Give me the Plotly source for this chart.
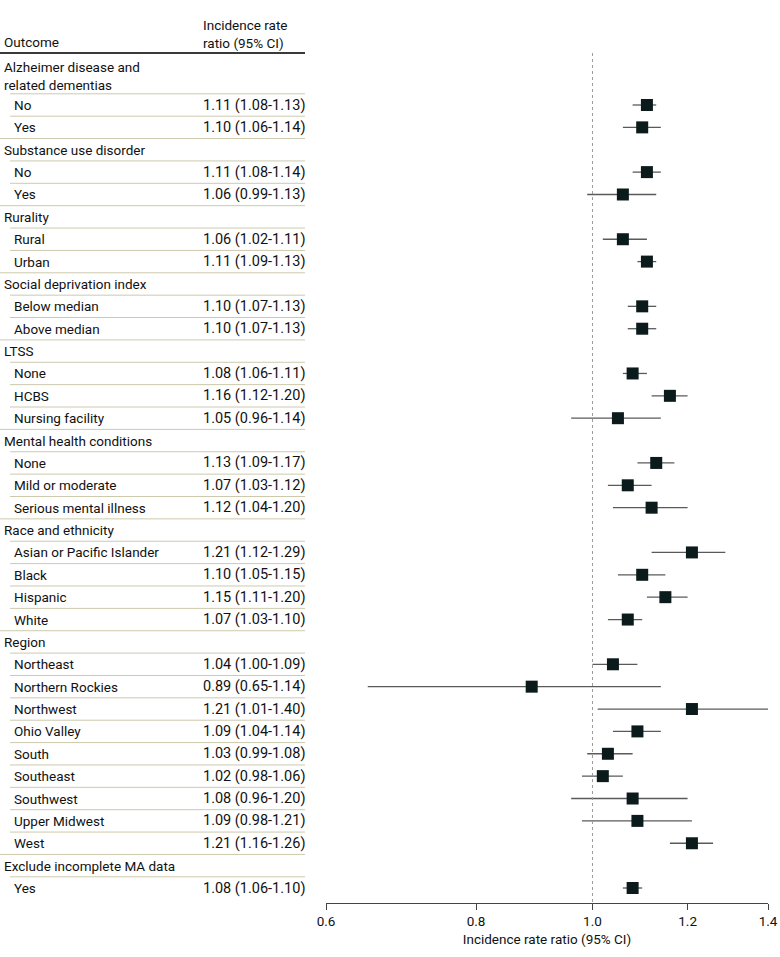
import math
import plotly.graph_objects as go

# ---------------- data ----------------
categories = [
    "Alzheimer disease and<br>related dementias",
    "Substance use disorder",
    "Rurality",
    "Social deprivation index",
    "LTSS",
    "Mental health conditions",
    "Race and ethnicity",
    "Region",
    "Exclude incomplete MA data",
]
subgroups = [
    ["No", "Yes"],
    ["No", "Yes"],
    ["Rural", "Urban"],
    ["Below median", "Above median"],
    ["None", "HCBS", "Nursing facility"],
    ["None", "Mild or moderate", "Serious mental illness"],
    ["Asian or Pacific Islander", "Black", "Hispanic", "White"],
    ["Northeast", "Northern Rockies", "Northwest", "Ohio Valley", "South",
     "Southeast", "Southwest", "Upper Midwest", "West"],
    ["Yes"],
]
irr = [
    [1.11, 1.10],
    [1.11, 1.06],
    [1.06, 1.11],
    [1.10, 1.10],
    [1.08, 1.16, 1.05],
    [1.13, 1.07, 1.12],
    [1.21, 1.10, 1.15, 1.07],
    [1.04, 0.89, 1.21, 1.09, 1.03, 1.02, 1.08, 1.09, 1.21],
    [1.08],
]
ci_low = [
    [1.08, 1.06],
    [1.08, 0.99],
    [1.02, 1.09],
    [1.07, 1.07],
    [1.06, 1.12, 0.96],
    [1.09, 1.03, 1.04],
    [1.12, 1.05, 1.11, 1.03],
    [1.00, 0.65, 1.01, 1.04, 0.99, 0.98, 0.96, 0.98, 1.16],
    [1.06],
]
ci_high = [
    [1.13, 1.14],
    [1.14, 1.13],
    [1.11, 1.13],
    [1.13, 1.13],
    [1.11, 1.20, 1.14],
    [1.17, 1.12, 1.20],
    [1.29, 1.15, 1.20, 1.10],
    [1.09, 1.14, 1.40, 1.14, 1.08, 1.06, 1.20, 1.21, 1.26],
    [1.10],
]
tick_vals = [0.6, 0.8, 1.0, 1.2, 1.4]
tick_text = ["0.6", "0.8", "1.0", "1.2", "1.4"]
x_title = "Incidence rate ratio (95% CI)"
col_headers = ["Outcome", "Incidence rate<br>ratio (95% CI)"]

# ---------------- layout helpers ----------------
W, H = 780, 957
FONT = "Roboto"
FS = 13.5
FS_IRR = 14.5
TXT = "#111111"
SEP = "#cdc9ad"

X_LABEL_CAT = 4 / W
X_LABEL_SUB = 14 / W
X_IRR = 203 / W
X_TABLE_END = 305 / W
X_SEP_IND = 10 / W

fig = go.Figure()
annotations = []
shapes = []


def txt(x, y, s, size=FS):
    return dict(x=x, y=y, xref="paper", yref="y", text=s, showarrow=False,
                xanchor="left", yanchor="middle", align="left",
                borderpad=0, borderwidth=0,
                font=dict(family=FONT, size=size, color=TXT))


row = 0.0
ys_pts, xs_pts, line_x, line_y = [], [], [], []
for gi, cat in enumerate(categories):
    if gi == 0:
        cat_y = -1.3
        sep_y = -0.5
    else:
        cat_y = row
        sep_y = row + 0.5
        row += 1
    annotations.append(txt(X_LABEL_CAT, cat_y, cat))
    shapes.append(dict(type="line", xref="paper", yref="y", x0=X_SEP_IND,
                       x1=X_TABLE_END, y0=sep_y, y1=sep_y,
                       line=dict(color=SEP, width=1)))
    n = len(subgroups[gi])
    for si, sub in enumerate(subgroups[gi]):
        y = row
        row += 1
        annotations.append(txt(X_LABEL_SUB, y, sub))
        annotations.append(txt(X_IRR, y,
                               f"{irr[gi][si]:.2f} ({ci_low[gi][si]:.2f}-{ci_high[gi][si]:.2f})",
                               FS_IRR))
        last = si == n - 1
        if not (gi == len(categories) - 1 and last):
            shapes.append(dict(type="line", xref="paper", yref="y",
                               x0=0 if last else X_SEP_IND, x1=X_TABLE_END,
                               y0=y + 0.5, y1=y + 0.5,
                               line=dict(color=SEP, width=1)))
        ys_pts.append(y)
        xs_pts.append(irr[gi][si])
        line_x += [ci_low[gi][si], ci_high[gi][si], None]
        line_y += [y, y, None]

last_row = row - 1
px_per_row = (888 - 105) / last_row
y_top = (0 - 105) / px_per_row
y_bot = (903 - 105) / px_per_row
y_hdr_line = (53 - 105) / px_per_row

# header
annotations.append(txt(X_LABEL_CAT, (42 - 105) / px_per_row, col_headers[0]))
annotations.append(txt(X_IRR, (33.5 - 105) / px_per_row, col_headers[1]))
shapes.append(dict(type="line", xref="paper", yref="y", x0=0, x1=X_TABLE_END,
                   y0=y_hdr_line, y1=y_hdr_line, line=dict(color="#3a3a3a", width=2)))

# reference line at 1.0
shapes.append(dict(type="line", xref="x", yref="y", x0=1.0, x1=1.0,
                   y0=y_hdr_line, y1=y_bot, line=dict(color="#9a9a9a", width=1, dash="dot")))

fig.add_trace(go.Scatter(x=line_x, y=line_y, mode="lines",
                         line=dict(color="#5a5a5a", width=1.3),
                         hoverinfo="skip", showlegend=False))
fig.add_trace(go.Scatter(x=xs_pts, y=ys_pts, mode="markers",
                         marker=dict(symbol="square", size=12, color="#0b1a1a",
                                     line=dict(width=0)),
                         showlegend=False))

fig.update_layout(
    width=W, height=H,
    margin=dict(l=0, r=0, t=0, b=H - 903, autoexpand=False),
    plot_bgcolor="white", paper_bgcolor="white",
    annotations=annotations, shapes=shapes,
    font=dict(family=FONT, size=FS, color=TXT),
)
fig.update_xaxes(type="log", range=[math.log10(0.6), math.log10(1.4)],
                 domain=[326 / W, 768 / W], automargin=False,
                 tickvals=tick_vals, ticktext=tick_text,
                 showgrid=False, zeroline=False,
                 showline=True, linecolor="#444", linewidth=1,
                 ticks="outside", ticklen=6, tickcolor="#444",
                 tickfont=dict(family=FONT, size=FS, color=TXT),
                 title=dict(text=x_title, font=dict(family=FONT, size=FS, color=TXT),
                            standoff=6))
fig.update_yaxes(range=[y_bot, y_top], visible=False, showgrid=False, zeroline=False,
                 automargin=False)

fig.write_html("out.html", config={"displayModeBar": False},
               post_script="document.body.style.margin='0px';document.body.style.overflow='hidden';")
